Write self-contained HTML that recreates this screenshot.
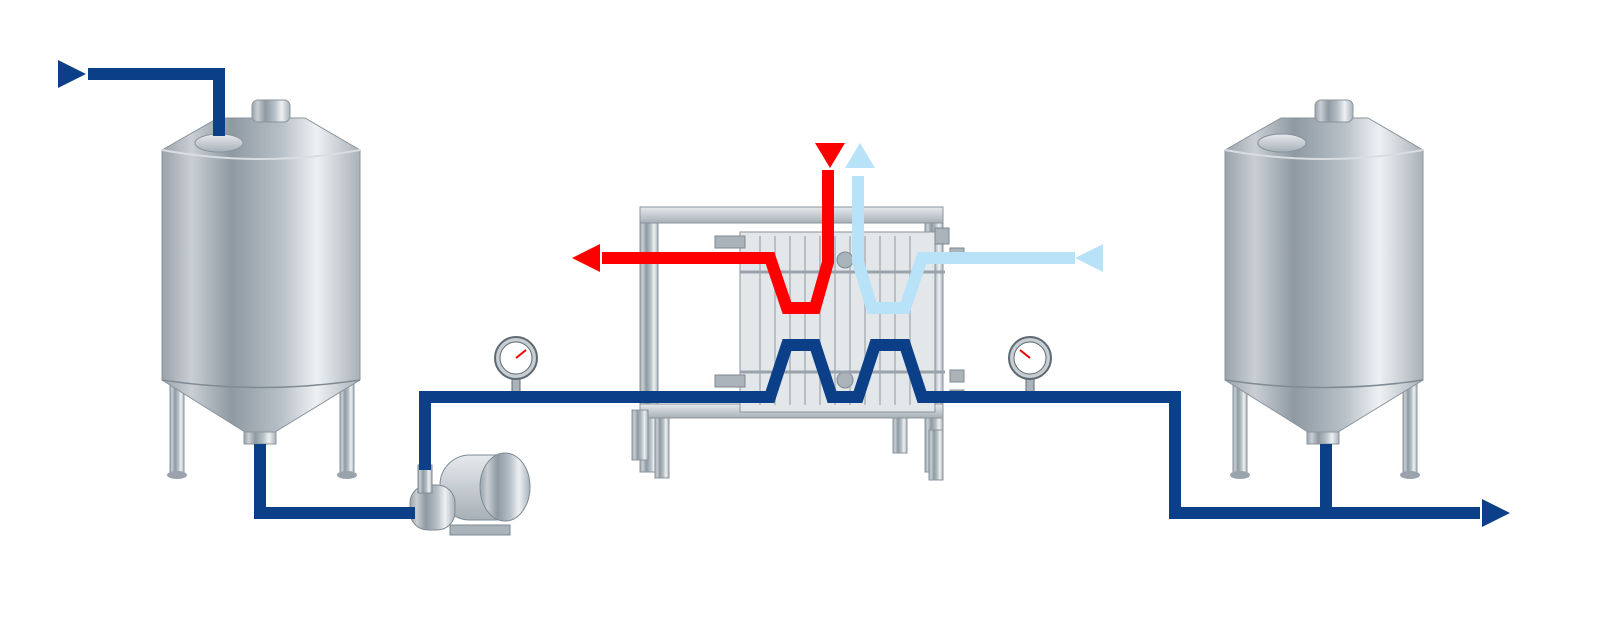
<!DOCTYPE html>
<html><head><meta charset="utf-8"><style>html,body{margin:0;padding:0;background:#fff}svg{display:block}</style></head>
<body>
<svg width="1609" height="624" viewBox="0 0 1609 624" xmlns="http://www.w3.org/2000/svg">
<defs>
<linearGradient id="steel" x1="0" x2="1" y1="0" y2="0">
<stop offset="0" stop-color="#9aa3ab"/><stop offset="0.15" stop-color="#c9cfd4"/><stop offset="0.35" stop-color="#8e99a2"/><stop offset="0.6" stop-color="#b7c0c7"/><stop offset="0.78" stop-color="#eef1f3"/><stop offset="1" stop-color="#a9b2b9"/>
</linearGradient>
<linearGradient id="steelv" x1="0" x2="0" y1="0" y2="1">
<stop offset="0" stop-color="#e6eaed"/><stop offset="1" stop-color="#a7b0b7"/>
</linearGradient>
</defs>

<!-- Tank template -->
<g id="tankL">
<rect x="170" y="365" width="14" height="110" fill="url(#steel)" stroke="#8a949c"/>
<rect x="340" y="365" width="14" height="110" fill="url(#steel)" stroke="#8a949c"/>
<ellipse cx="177" cy="475" rx="10" ry="4" fill="#9aa3ab"/><ellipse cx="347" cy="475" rx="10" ry="4" fill="#9aa3ab"/>
<path d="M162 150 L218 118 L305 118 L360 150 L360 380 L275 432 L245 432 L162 380 Z" fill="url(#steel)" stroke="#8a949c"/>
<path d="M162 150 Q261 168 360 150" fill="none" stroke="#d8dde1" stroke-width="2"/>
<path d="M162 380 Q261 395 360 380" fill="none" stroke="#7f8a93" stroke-width="1.5"/>
<rect x="244" y="432" width="32" height="12" fill="url(#steel)" stroke="#8a949c"/>
<ellipse cx="219" cy="143" rx="24" ry="9" fill="url(#steelv)" stroke="#8a949c"/>
<rect x="252" y="100" width="38" height="22" rx="6" fill="url(#steel)" stroke="#8a949c"/>
</g>
<use href="#tankL" x="1063" y="0"/>
<ellipse cx="1282" cy="143" rx="24" ry="9" fill="url(#steelv)" stroke="#8a949c"/>

<!-- Heat exchanger -->
<g stroke="#8a949c">
<rect x="640" y="207" width="18" height="265" fill="url(#steel)"/>
<rect x="925" y="207" width="18" height="265" fill="url(#steel)"/>
<rect x="640" y="207" width="303" height="16" fill="url(#steelv)"/>
<rect x="640" y="404" width="303" height="14" fill="url(#steelv)"/>
<rect x="740" y="232" width="195" height="180" fill="#e3e7ea"/>
<rect x="632" y="410" width="16" height="50" fill="url(#steel)"/>
<rect x="655" y="418" width="14" height="60" fill="url(#steel)"/>
<rect x="893" y="418" width="14" height="35" fill="url(#steel)"/>
<rect x="929" y="430" width="14" height="50" fill="url(#steel)"/>
</g>
<g stroke="#b8c0c6" stroke-width="2">
<line x1="760" y1="236" x2="760" y2="405"/><line x1="775" y1="236" x2="775" y2="405"/><line x1="790" y1="236" x2="790" y2="405"/><line x1="805" y1="236" x2="805" y2="405"/><line x1="820" y1="236" x2="820" y2="405"/><line x1="835" y1="236" x2="835" y2="405"/><line x1="850" y1="236" x2="850" y2="405"/><line x1="865" y1="236" x2="865" y2="405"/><line x1="880" y1="236" x2="880" y2="405"/><line x1="895" y1="236" x2="895" y2="405"/><line x1="910" y1="236" x2="910" y2="405"/>
</g>
<g fill="#aab3ba" stroke="#7f8a93">
<rect x="715" y="236" width="30" height="12"/><rect x="715" y="375" width="30" height="12"/>
<rect x="935" y="228" width="14" height="16"/><rect x="950" y="248" width="14" height="12"/>
<rect x="950" y="370" width="14" height="12"/><rect x="950" y="390" width="14" height="12"/>
<circle cx="845" cy="260" r="8"/><circle cx="845" cy="380" r="8"/>
</g>
<line x1="740" y1="272" x2="945" y2="272" stroke="#9aa3ab" stroke-width="3"/>
<line x1="740" y1="372" x2="945" y2="372" stroke="#9aa3ab" stroke-width="3"/>

<!-- Pump -->
<g stroke="#7f8a93">
<rect x="440" y="455" width="85" height="65" rx="30" fill="url(#steelv)"/>
<ellipse cx="505" cy="487" rx="25" ry="34" fill="url(#steel)"/>
<rect x="410" y="485" width="45" height="45" rx="18" fill="url(#steel)"/>
<rect x="418" y="465" width="14" height="28" fill="url(#steel)"/>
<rect x="450" y="525" width="60" height="10" fill="#aab3ba"/>
</g>

<!-- Gauges -->
<g stroke="#5d6870">
<rect x="512" y="375" width="8" height="18" fill="#aab3ba"/>
<circle cx="516" cy="358" r="21" fill="#c7ced3" stroke-width="2"/><circle cx="516" cy="358" r="16" fill="#fff"/>
<line x1="516" y1="358" x2="526" y2="350" stroke="#e00" stroke-width="2"/>
<rect x="1026" y="375" width="8" height="18" fill="#aab3ba"/>
<circle cx="1030" cy="358" r="21" fill="#c7ced3" stroke-width="2"/><circle cx="1030" cy="358" r="16" fill="#fff"/>
<line x1="1030" y1="358" x2="1020" y2="350" stroke="#e00" stroke-width="2"/>
</g>

<!-- Blue product line -->
<g fill="none" stroke="#0b3f88" stroke-width="12" stroke-linejoin="miter">
<polyline points="88,74 219,74 219,136"/>
<polyline points="260,444 260,513 415,513"/>
<polyline points="425,470 425,397 770,397 787,345 815,345 832,397 858,397 875,345 905,345 922,397 1175,397 1175,513 1480,513"/>
<line x1="1326" y1="444" x2="1326" y2="513"/>
</g>
<polygon points="58,60 86,74 58,88" fill="#0b3f88"/>
<polygon points="1482,499 1510,513 1482,527" fill="#0b3f88"/>

<!-- Red line -->
<polyline points="602,258 770,258 787,308 815,308 828,262 828,170" fill="none" stroke="#ff0000" stroke-width="12"/>
<polygon points="572,258 600,244 600,272" fill="#ff0000"/>
<polygon points="815,143 845,143 830,168" fill="#ff0000"/>

<!-- Light blue line -->
<polyline points="858,176 858,262 872,308 905,308 922,258 1075,258" fill="none" stroke="#b8e2f7" stroke-width="12"/>
<polygon points="845,168 875,168 860,143" fill="#b8e2f7"/>
<polygon points="1075,258 1103,244 1103,272" fill="#b8e2f7"/>
</svg>
</body></html>
